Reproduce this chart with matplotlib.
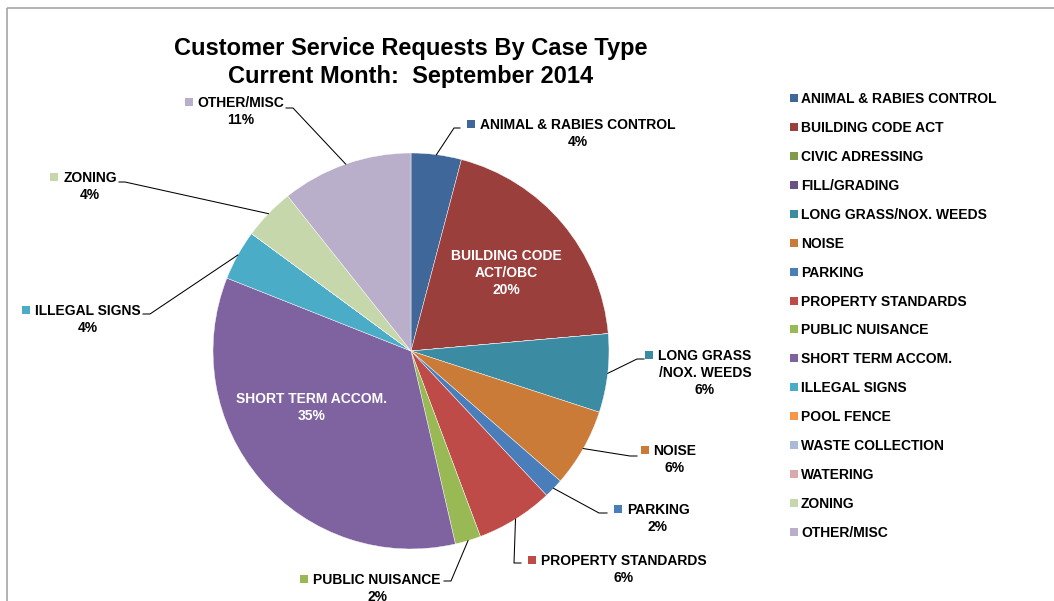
import matplotlib
matplotlib.use('Agg')
import matplotlib.pyplot as plt
from matplotlib.patches import Rectangle
import numpy as np

W, H = 1054, 601  # figure size in px
CX, CY, R = 411, 351, 198  # pie centre / radius in px (y from top)

# ------- data -------
categories = ['ANIMAL & RABIES CONTROL', 'BUILDING CODE ACT', 'CIVIC ADRESSING', 'FILL/GRADING',
              'LONG GRASS/NOX. WEEDS', 'NOISE', 'PARKING', 'PROPERTY STANDARDS', 'PUBLIC NUISANCE',
              'SHORT TERM ACCOM.', 'ILLEGAL SIGNS', 'POOL FENCE', 'WASTE COLLECTION', 'WATERING',
              'ZONING', 'OTHER/MISC']
shares = [4.1, 19.5, 0, 0, 6.4, 6.4, 1.6, 6.3, 2.1, 34.6, 4.1, 0, 0, 0, 4.2, 10.7]
# names as written on the data labels
label_names = ['ANIMAL & RABIES CONTROL', 'BUILDING CODE\nACT/OBC', '', '', 'LONG GRASS\n/NOX. WEEDS',
               'NOISE', 'PARKING', 'PROPERTY STANDARDS', 'PUBLIC NUISANCE', 'SHORT TERM ACCOM.',
               'ILLEGAL SIGNS', '', '', '', 'ZONING', 'OTHER/MISC']
colors = ['#3F679A', '#9B3F3C', '#7F9A48', '#695185', '#3B8CA2', '#CB7B38', '#4A7EBB', '#BE4B48',
          '#98B954', '#7F62A0', '#4AACC6', '#F79646', '#AABAD7', '#D9AAA9', '#C6D7AB', '#B9AFCA']

title = 'Customer Service Requests By Case Type\nCurrent Month:  September 2014'

# label layout: index -> (centre x, first line centre y, inside?, leader elbow points)
label_layout = {
    0: (578, 124, False, [(454, 128), (460, 128)]),
    1: (506, 255, True, None),
    4: (705, 355, False, [(637, 359), (644, 359)]),
    5: (675, 450, False, [(630, 456), (637, 456)]),
    6: (658, 509, False, [(599, 513), (607, 513)]),
    7: (624, 560, False, [(514, 563), (521, 563)]),
    8: (377, 579, False, [(451, 581), (444, 581)]),
    9: (312, 398, True, None),
    10: (88, 310, False, [(150, 314), (143, 314)]),
    14: (90, 177, False, [(125, 182), (119, 182)]),
    15: (241, 102, False, [(293, 108), (286, 108)]),
}

plt.rcParams['font.family'] = ['Liberation Sans', 'DejaVu Sans']
plt.rcParams['font.weight'] = 'bold'


def py(y):
    # pixel-from-top -> data y
    return H - y


fig = plt.figure(figsize=(W / 100, H / 100), dpi=100)
ax = fig.add_axes([0, 0, 1, 1])

wedges, _ = ax.pie(shares, colors=colors, startangle=90, counterclock=False,
                   center=(CX, py(CY)), radius=R,
                   wedgeprops=dict(edgecolor='white', linewidth=0.3))
ax.set_xlim(0, W)
ax.set_ylim(0, H)
ax.set_aspect('equal')
ax.axis('off')

# frame lines (top and left)
ax.plot([7, W], [py(8), py(8)], color='#a6a6a6', lw=1.2, solid_capstyle='butt')
ax.plot([7, 7], [py(8), 0], color='#a6a6a6', lw=1.2, solid_capstyle='butt')

# title
ax.text(CX, py(55), title.split('\n')[0], ha='center', va='baseline', fontsize=17, fontweight='bold')
ax.text(CX, py(83), title.split('\n')[1], ha='center', va='baseline', fontsize=17, fontweight='bold')

renderer = fig.canvas.get_renderer()
LS = 17  # line step of data labels, px
for i, (lx, ly, inside, elbow) in label_layout.items():
    lines = label_names[i].split('\n') + ['%d%%' % int(shares[i] + 0.5)]
    col = 'white' if inside else 'black'
    txts = []
    for k, s in enumerate(lines):
        t = ax.text(lx, py(ly + 5 + k * LS), s, ha='center', va='baseline',
                    fontsize=10, fontweight='bold', color=col)
        txts.append(t)
    if inside:
        continue
    # colour square before first line
    bb = txts[0].get_window_extent(renderer)
    ax.add_patch(Rectangle((bb.x0 - 5 - 8, py(ly + 4)), 8, 8, facecolor=colors[i], edgecolor='none'))
    # leader line from wedge mid-angle on the edge
    w = wedges[i]
    mid = np.deg2rad((w.theta1 + w.theta2) / 2)
    sx = CX + R * np.cos(mid)
    sy = py(CY) + R * np.sin(mid)
    xs = [sx] + [p[0] for p in elbow]
    ys = [sy] + [py(p[1]) for p in elbow]
    ax.plot(xs, ys, color='black', lw=0.75)

# legend on the right
for i, name in enumerate(categories):
    yc = 98 + i * 28.93
    ax.add_patch(Rectangle((790, py(yc + 4)), 8, 8, facecolor=colors[i], edgecolor='none'))
    ax.text(801, py(yc + 5), name, ha='left', va='baseline', fontsize=10, fontweight='bold')

fig.savefig('out.png', dpi=100)
